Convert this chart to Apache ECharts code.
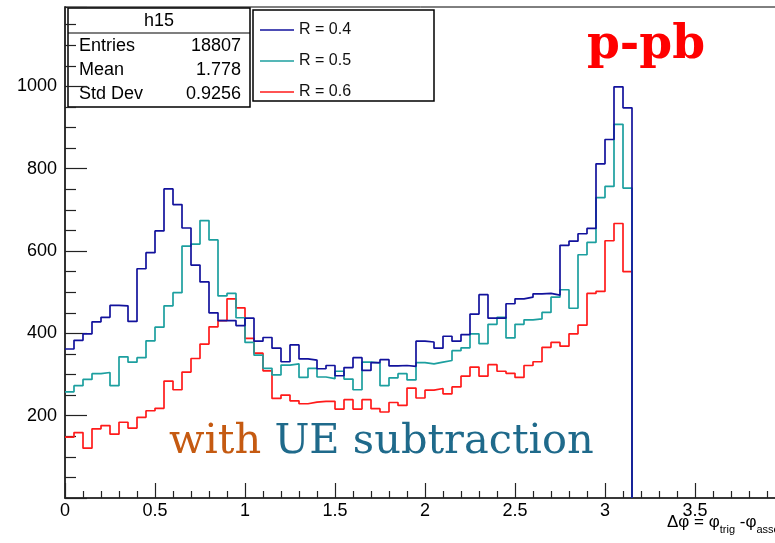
<!DOCTYPE html>
<html>
<head>
<meta charset="utf-8">
<script src="https://cdn.jsdelivr.net/npm/echarts@6/dist/echarts.min.js"></script>
<style>
  html, body { margin: 0; padding: 0; background: #fff; }
  #chart { width: 775px; height: 543px; }
</style>
</head>
<body>
<div id="chart"></div>
<script>
// Δφ histogram, 63 bins of width 0.05 starting at 0
const binWidth = 0.05;
const seriesNames = ['R = 0.4', 'R = 0.5', 'R = 0.6'];

const r04 = [362, 383, 399, 428, 439, 468, 467, 429, 557, 596,
             649, 751, 713, 656, 566, 525, 450, 431, 431, 419,
             437, 381, 390, 364, 331, 372, 338, 335, 314, 322,
             297, 317, 341, 310, 329, 336, 321, 322, 320, 381,
             379, 364, 393, 381, 397, 447, 494, 437, 437, 472,
             484, 488, 496, 497, 493, 614, 624, 642, 655, 812,
             871, 999, 948];

const r05 = [258, 273, 288, 302, 305, 273, 343, 330, 341, 382,
             415, 467, 499, 612, 617, 674, 627, 491, 497, 438,
             378, 347, 315, 299, 323, 326, 293, 315, 294, 290,
             308, 289, 263, 330, 328, 273, 292, 302, 287, 329,
             326, 330, 334, 358, 365, 399, 375, 422, 439, 389,
             422, 433, 435, 451, 488, 506, 461, 591, 621, 730,
             757, 908, 753];

const r06 = [148, 159, 121, 168, 176, 155, 184, 170, 196, 212,
             218, 284, 263, 306, 339, 374, 416, 431, 484, 462,
             388, 352, 309, 242, 250, 236, 229, 233, 235, 235,
             216, 239, 216, 239, 217, 209, 232, 225, 267, 243,
             262, 266, 253, 270, 296, 318, 296, 324, 308, 303,
             293, 322, 331, 366, 378, 369, 399, 420, 497, 502,
             625, 667, 550];

const statsTitle = 'h15';
const statsRows = [['Entries', '18807'], ['Mean', '1.778'], ['Std Dev', '0.9256']];

const colors = { 'R = 0.4': '#12129c', 'R = 0.5': '#1c9f9f', 'R = 0.6': '#ff1a1a' };

// Turn bin contents into step-line points at bin low edges, closing down to zero
function histPoints(vals) {
  const pts = vals.map((v, i) => [+(i * binWidth).toFixed(4), v]);
  pts.push([+(vals.length * binWidth).toFixed(4), 0]);
  return pts;
}

const sans = '"Liberation Sans", Arial, sans-serif';
const chart = echarts.init(document.getElementById('chart'), null, { renderer: 'canvas' });

function histSeries(name, vals) {
  return {
    name, type: 'line', step: 'end', data: histPoints(vals),
    showSymbol: false, symbol: 'none', animation: false,
    lineStyle: { color: colors[name], width: 1.7 },
    itemStyle: { color: colors[name] }
  };
}

const statsGraphics = [
  { type: 'rect', shape: { x: 68, y: 8, width: 182, height: 99 },
    style: { fill: '#fff', stroke: '#000', lineWidth: 1.5 } },
  { type: 'line', shape: { x1: 68, y1: 33, x2: 250, y2: 33 },
    style: { stroke: '#000', lineWidth: 1.2 } },
  { type: 'text', style: { text: statsTitle, x: 159, y: 21, align: 'center', verticalAlign: 'middle',
    font: '18px ' + sans, fill: '#000' } }
];
statsRows.forEach((row, i) => {
  const y = 46 + i * 24;
  statsGraphics.push({ type: 'text', style: { text: row[0], x: 79, y, align: 'left', verticalAlign: 'middle',
    font: '18px ' + sans, fill: '#000' } });
  statsGraphics.push({ type: 'text', style: { text: row[1], x: 241, y, align: 'right', verticalAlign: 'middle',
    font: '18px ' + sans, fill: '#000' } });
});

chart.setOption({
  animation: false,
  backgroundColor: '#fff',
  grid: { left: 65, top: 7, right: -10, bottom: 45, show: true, borderColor: '#000', borderWidth: 1,
    containLabel: false, outerBoundsMode: 'none' },
  xAxis: {
    type: 'value', min: 0, max: 4, interval: 0.5,
    axisLine: { show: true, lineStyle: { color: '#222', width: 1.5 } },
    axisTick: { show: true, inside: true, length: 15, lineStyle: { color: '#222', width: 1.2 } },
    minorTick: { show: true, splitNumber: 5, length: 7, lineStyle: { color: '#222', width: 1.2 } },
    splitLine: { show: false },
    axisLabel: { fontFamily: sans, fontSize: 18, color: '#000', margin: 4,
      formatter: v => String(+v.toFixed(1)) }
  },
  yAxis: {
    type: 'value', min: 0, max: 1193, interval: 200,
    axisLine: { show: true, lineStyle: { color: '#333', width: 2 } },
    axisTick: { show: true, inside: true, length: 22, lineStyle: { color: '#222', width: 1.2 } },
    minorTick: { show: true, splitNumber: 4, length: 11, lineStyle: { color: '#222', width: 1.2 } },
    splitLine: { show: false },
    axisLabel: { fontFamily: sans, fontSize: 18, color: '#000', margin: 8,
      showMinLabel: false, showMaxLabel: false, formatter: v => String(v) }
  },
  legend: {
    data: seriesNames, orient: 'vertical', left: 255, top: 16,
    icon: 'rect', itemWidth: 34, itemHeight: 1.5, itemGap: 13,
    textStyle: { fontFamily: sans, fontSize: 16, color: '#111', lineHeight: 18 },
    selectedMode: false, z: 10
  },
  series: [
    histSeries('R = 0.6', r06),
    histSeries('R = 0.5', r05),
    histSeries('R = 0.4', r04)
  ],
  graphic: [
    ...statsGraphics,
    { type: 'rect', z: 5, shape: { x: 253, y: 10, width: 181, height: 91 },
      style: { fill: '#fff', stroke: '#000', lineWidth: 1.5 } },
    { type: 'text', z: 20, style: { text: 'p-pb', x: 587, y: 46, align: 'left', verticalAlign: 'middle',
      font: 'bold 47px "DejaVu Serif", serif', fill: '#ff0000' } },
    { type: 'text', z: 20, style: {
      text: '{a|with }{b|UE subtraction}', x: 169, y: 442, align: 'left', verticalAlign: 'middle',
      rich: {
        a: { font: '41.5px "DejaVu Serif", serif', fill: '#c55a11' },
        b: { font: '41.5px "DejaVu Serif", serif', fill: '#1f6a8b' }
      } } },
    { type: 'text', z: 20, style: {
      text: '{m|Δφ = φ}{s|trig}{m| -φ}{s|assoc}', x: 667, y: 522, align: 'left', verticalAlign: 'middle',
      rich: {
        m: { font: '17px ' + sans, fill: '#000' },
        s: { font: '11px ' + sans, fill: '#000', padding: [16, 0, 0, 0] }
      } } }
  ]
});
</script>
</body>
</html>
